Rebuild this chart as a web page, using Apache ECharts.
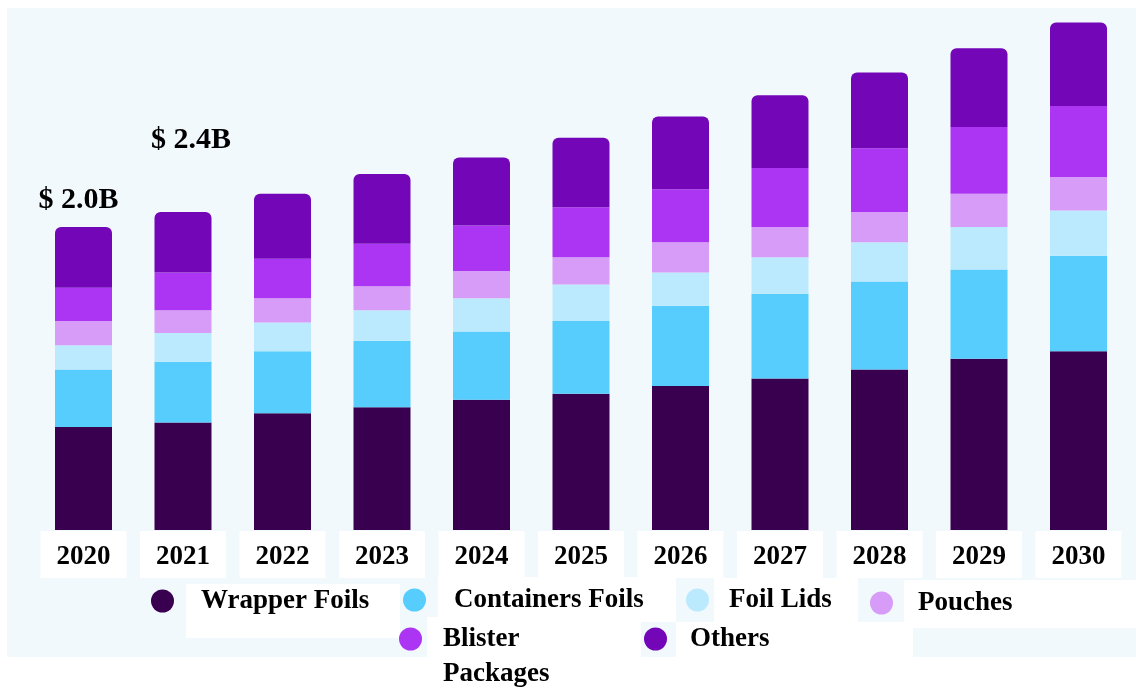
<!DOCTYPE html>
<html>
<head>
<meta charset="utf-8">
<title>Aluminium Foil Packaging Market</title>
<script src="https://cdn.jsdelivr.net/npm/echarts@6/dist/echarts.min.js"></script>
<style>
  html, body { margin: 0; padding: 0; background: #ffffff; }
  #chart { width: 1136px; height: 688px; }
</style>
</head>
<body>
<div id="chart"></div>
<script>
// Market size by product type, USD billion
const years = ['2020', '2021', '2022', '2023', '2024', '2025', '2026', '2027', '2028', '2029', '2030'];

const wrapperFoils    = [0.68, 0.71, 0.77, 0.81, 0.86, 0.90, 0.95, 1.00, 1.06, 1.13, 1.18];
const containersFoils = [0.38, 0.40, 0.41, 0.44, 0.45, 0.48, 0.53, 0.56, 0.58, 0.59, 0.63];
const foilLids        = [0.16, 0.19, 0.19, 0.20, 0.22, 0.24, 0.22, 0.24, 0.26, 0.28, 0.30];
const pouches         = [0.16, 0.15, 0.16, 0.16, 0.18, 0.18, 0.20, 0.20, 0.20, 0.22, 0.22];
const blisterPackages = [0.22, 0.25, 0.26, 0.28, 0.30, 0.33, 0.35, 0.39, 0.42, 0.44, 0.47];
const others          = [0.40, 0.40, 0.43, 0.46, 0.45, 0.46, 0.48, 0.48, 0.50, 0.52, 0.55];

// Headline market-size call-outs
const calloutYears  = ['2020', '2021'];
const calloutValues = [2.0, 2.4];

const seriesNames = ['Wrapper Foils', 'Containers Foils', 'Foil Lids', 'Pouches', 'Blister Packages', 'Others'];
const seriesData  = [wrapperFoils, containersFoils, foilLids, pouches, blisterPackages, others];
const colors      = ['#3a0050', '#56cdfc', '#bbeafe', '#d69cf7', '#ac35f3', '#7307b8'];

const serif = 'Liberation Serif, Times New Roman, serif';

const barSeries = seriesNames.map((name, i) => ({
  name: name,
  type: 'bar',
  stack: 'total',
  barWidth: 57,
  data: seriesData[i],
  itemStyle: {
    color: colors[i],
    borderRadius: i === seriesNames.length - 1 ? [6, 6, 0, 0] : 0
  },
  emphasis: { disabled: true }
}));

const calloutOffsets = [[-5, -27], [8, -26]];
const calloutSeries = {
  name: 'Market Size',
  type: 'scatter',
  symbolSize: 0,
  z: 5,
  itemStyle: { opacity: 1 },
  data: calloutYears.map((y, i) => ({
    value: [y, calloutValues[i]],
    label: { offset: calloutOffsets[i] }
  })),
  label: {
    show: true,
    position: 'inside',
    formatter: p => '$ ' + p.value[1].toFixed(1) + 'B',
    fontFamily: serif,
    fontWeight: 'bold',
    fontSize: 30,
    color: '#000000',
    opacity: 1
  },
  emphasis: { disabled: true }
};

// One legend block per entry so each can sit where the layout needs it
function legendItem(name, left, top, padLeft, fmt) {
  return {
    data: [name],
    left: left,
    top: top,
    padding: 0,
    icon: 'circle',
    itemWidth: 23,
    itemHeight: 23,
    selectedMode: false,
    formatter: fmt || (n => n),
    textStyle: {
      fontFamily: serif,
      fontWeight: 'bold',
      fontSize: 27,
      color: '#000',
      lineHeight: fmt ? 35 : 32,
      padding: [0, 0, 0, padLeft]
    }
  };
}

const chart = echarts.init(document.getElementById('chart'));
chart.setOption({
  backgroundColor: '#ffffff',
  animation: false,
  color: colors,
  graphic: [
    { type: 'rect', z: -10, shape: { x: 7, y: 8, width: 1129, height: 649 }, style: { fill: '#f2f9fd' }, silent: true },
    { type: 'rect', z: -9, shape: { x: 186, y: 584, width: 214, height: 54 }, style: { fill: '#ffffff' }, silent: true },
    { type: 'rect', z: -9, shape: { x: 427, y: 617, width: 214, height: 40 }, style: { fill: '#ffffff' }, silent: true },
    { type: 'rect', z: -9, shape: { x: 676, y: 622, width: 237, height: 35 }, style: { fill: '#ffffff' }, silent: true },
    { type: 'rect', z: -9, shape: { x: 438, y: 577, width: 238, height: 45 }, style: { fill: '#ffffff' }, silent: true },
    { type: 'rect', z: -9, shape: { x: 714, y: 578, width: 144, height: 44 }, style: { fill: '#ffffff' }, silent: true },
    { type: 'rect', z: -9, shape: { x: 904, y: 580, width: 232, height: 48 }, style: { fill: '#ffffff' }, silent: true }
  ],
  grid: { left: 33.75, right: 7.75, top: 15, bottom: 158, containLabel: false },
  xAxis: {
    type: 'category',
    data: years,
    axisLine: { show: false },
    axisTick: { show: false },
    axisLabel: {
      margin: 1,
      fontFamily: serif,
      fontWeight: 'bold',
      fontSize: 27,
      color: '#000',
      backgroundColor: '#ffffff',
      padding: [13, 16, 7, 16]
    }
  },
  yAxis: {
    type: 'value',
    min: 0,
    max: 3.4,
    show: false,
    splitLine: { show: false }
  },
  legend: [
    legendItem('Wrapper Foils', 151, 585, 22),
    legendItem('Containers Foils', 403, 584, 23),
    legendItem('Foil Lids', 686, 584, 15),
    legendItem('Pouches', 870, 587, 20),
    legendItem('Blister Packages', 399, 586.5, 16, () => '\nBlister\nPackages'),
    legendItem('Others', 644, 623, 18)
  ],
  series: barSeries.concat([calloutSeries])
});
</script>
</body>
</html>
